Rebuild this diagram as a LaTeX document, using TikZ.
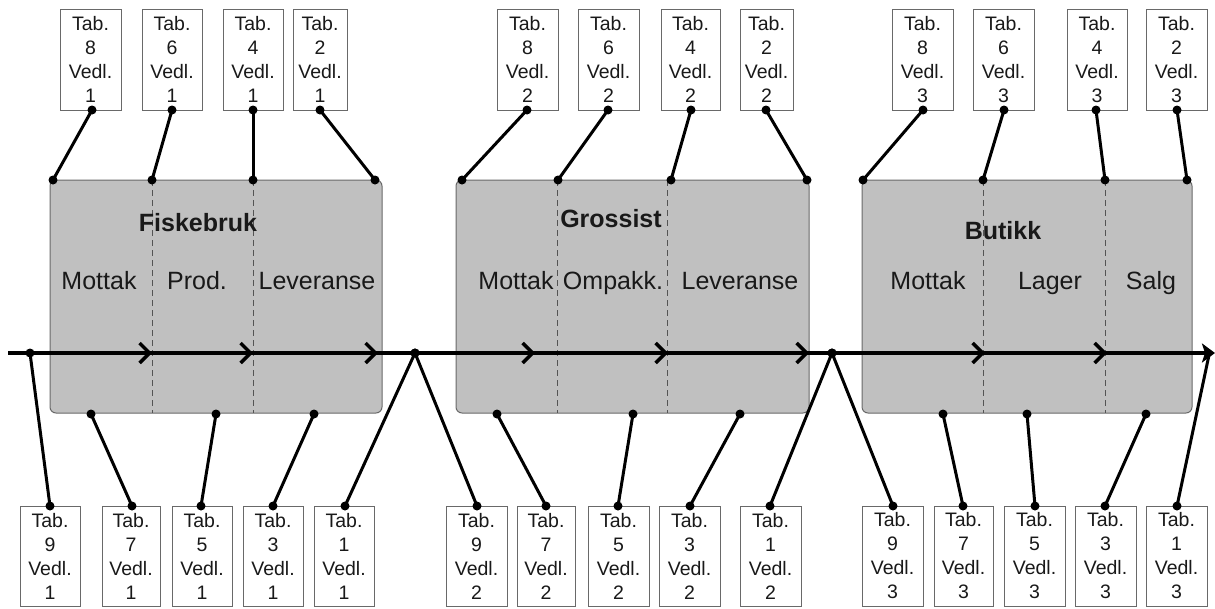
\documentclass[tikz,border=0pt]{standalone}
\usepackage{fontspec}
\setmainfont{Liberation Sans}
\usetikzlibrary{arrows.meta}
\definecolor{stagefill}{RGB}{192,192,192}
\definecolor{edgegray}{RGB}{105,105,105}
\definecolor{inkgray}{RGB}{25,25,25}
\begin{document}
\begin{tikzpicture}[x=1pt,y=-1pt,
  stage/.style={draw=edgegray, line width=1pt, fill=stagefill, rounded corners=6pt, inner sep=0pt},
  divider/.style={draw=edgegray!80!black, line width=1pt, dash pattern=on 6pt off 4pt},
  title/.style={font=\fontsize{25}{30}\selectfont\bfseries, anchor=base, inner sep=0pt, text=inkgray},
  phase/.style={font=\fontsize{25}{30}\selectfont, anchor=base, inner sep=0pt, text=inkgray},
  tab/.style={draw=edgegray, line width=1pt, fill=white, inner sep=0pt, align=center,
    font=\fontsize{19.5}{24}\selectfont, text=inkgray},
  flow/.style={line width=3.5pt},
  conn/.style={line width=3pt},
  chev/.style={-{Straight Barb[length=10pt,width=20pt]}},
  endtip/.style={-{Stealth[length=13pt,width=19pt,inset=3pt]}}
]
\useasboundingbox (0,0) rectangle (1215,608);

% stages
\node[stage, minimum width=332pt, minimum height=233pt] (s1) at (216,296.5) {};
\node[stage, minimum width=353pt, minimum height=233pt] (s2) at (632.5,296.5) {};
\node[stage, minimum width=330pt, minimum height=233pt] (s3) at (1027,296.5) {};

% dividers
\foreach \dx in {152,253,557,667,983,1105}
  \draw[divider] (\dx,180) -- (\dx,413);

% titles and phases
\node[title] (f1) at (198,231) {Fiskebruk};
\node[title] (f2) at (611,227) {Grossist};
\node[title] (f3) at (1003,239) {Butikk};
\foreach \nm/\px/\txt in {m11/99/Mottak, m12/197/Prod., m13/317/Leveranse,
   m21/516/Mottak, m22/613/Ompakk., m23/740/Leveranse,
   m31/928/Mottak, m32/1050/Lager, m33/1151/Salg}
  \node[phase] (\nm) at (\px,289) {\txt};

% main flow line
\coordinate (m0) at (8,353);
\coordinate (mE) at (1215,353);
\coordinate (L0) at (30,353);
\coordinate (J1) at (415,353);
\coordinate (J2) at (832,353);
\coordinate (E) at (1209,355);
\draw[flow,endtip] (m0) -- (mE);
\foreach \ax in {152,253,378,535,668,809,985,1107}
  \draw[flow,chev] (\ax-12,353) -- (\ax,353);

% top boxes
\foreach \n/\xl/\xr/\k/\v in {18/60/121/8/1, 16/142/202/6/1, 14/223/283/4/1, 12/293/347/2/1,
    28/497/558/8/2, 26/578/639/6/2, 24/661/720/4/2, 22/740/793/2/2,
    38/892/953/8/3, 36/973/1034/6/3, 34/1067/1127/4/3, 32/1146/1207/2/3}
  \node[tab, minimum width={(\xr-\xl)*1pt}, minimum height=101pt] (t\n) at ({(\xl+\xr)/2},59.5) {Tab.\\\k\\Vedl.\\\v};

% bottom boxes
\foreach \n/\xl/\xr/\k/\v in {19/20/80/9/1, 17/102/160/7/1, 15/172/232/5/1, 13/243/303/3/1, 11/314/374/1/1,
    29/446/507/9/2, 27/517/575/7/2, 25/588/649/5/2, 23/659/720/3/2, 21/740/801/1/2,
    39/862/923/9/3, 37/934/993/7/3, 35/1004/1065/5/3, 33/1075/1136/3/3, 31/1146/1207/1/3}
  \node[tab, minimum width={(\xr-\xl)*1pt}, minimum height=100pt] (b\n) at ({(\xl+\xr)/2},556) {Tab.\\\k\\Vedl.\\\v};

% connector end points
\foreach \n/\px in {18/92,16/172,14/253,12/320,28/527,26/608,24/691,22/766,38/923,36/1004,34/1096,32/1177}
  \coordinate (p\n) at (\px,110);
\foreach \n/\px in {18/53,16/152,14/253,12/375,28/462,26/558,24/671,22/807,38/863,36/983,34/1105,32/1187}
  \coordinate (r\n) at (\px,180);
\foreach \n/\px in {19/50,17/132,15/201,13/273,11/345,29/477,27/546,25/618,23/690,21/770,39/893,37/963,35/1035,33/1105,31/1177}
  \coordinate (q\n) at (\px,506);
\foreach \n/\px in {17/91,15/216,13/314,27/497,25/633,23/740,37/943,35/1027,33/1146}
  \coordinate (u\n) at (\px,414);

% connectors
\foreach \a/\b in {p18/r18,p16/r16,p14/r14,p12/r12,p28/r28,p26/r26,p24/r24,p22/r22,p38/r38,p36/r36,p34/r34,p32/r32,
    q19/L0,q17/u17,q15/u15,q13/u13,q11/J1,
    q29/J1,q27/u27,q25/u25,q23/u23,q21/J2,
    q39/J2,q37/u37,q35/u35,q33/u33}
  {\draw[conn] (\a) -- (\b); \fill (\a) circle (4.5pt); \fill (\b) circle (4.5pt);}
\draw[conn] (q31) -- (E);
\fill (q31) circle (4.5pt);
\end{tikzpicture}
\end{document}
